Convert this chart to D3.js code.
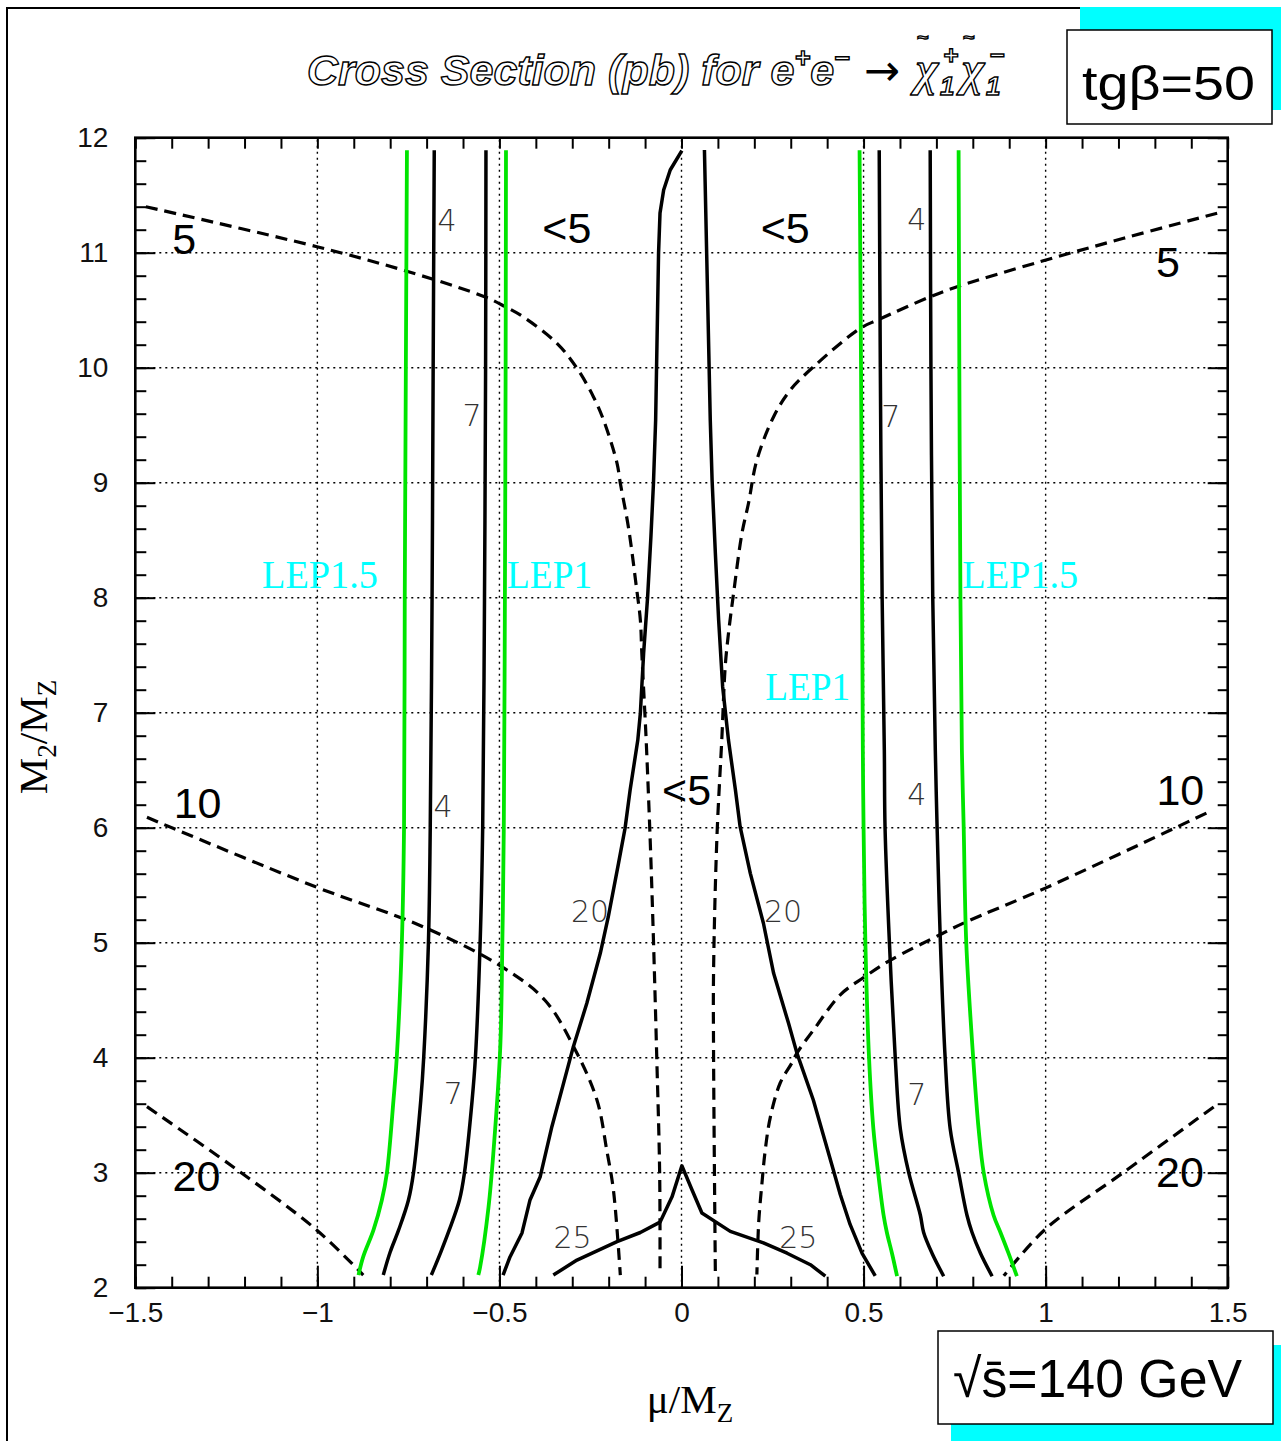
<!DOCTYPE html>
<html>
<head>
<meta charset="utf-8">
<script src="https://cdn.jsdelivr.net/npm/d3@7"></script>
<style>
  body { margin: 0; background: #fff; }
</style>
</head>
<body>
<svg id="chart" width="1281" height="1441"></svg>
<script>
// ---- data (mu/MZ, M2/MZ) ----
const lep15L = [[-0.754, 11.89], [-0.757, 10.0], [-0.760, 8.0], [-0.762, 6.0], [-0.768, 5.0], [-0.782, 4.0], [-0.791, 3.63], [-0.809, 3.0], [-0.823, 2.76], [-0.846, 2.5], [-0.874, 2.27], [-0.887, 2.11]];
const cont4L = [[-0.679, 11.89], [-0.682, 10], [-0.685, 8], [-0.69, 6], [-0.695, 5], [-0.708, 4], [-0.716, 3.63], [-0.736, 3.0], [-0.75, 2.76], [-0.777, 2.5], [-0.8, 2.31], [-0.819, 2.11]];
const cont7L = [[-0.537, 11.89], [-0.538, 10], [-0.541, 8], [-0.546, 6], [-0.553, 5], [-0.566, 4], [-0.575, 3.63], [-0.596, 3.0], [-0.61, 2.76], [-0.638, 2.5], [-0.661, 2.31], [-0.687, 2.11]];
const lep1L = [[-0.482, 11.89], [-0.483, 10], [-0.485, 8], [-0.488, 6], [-0.492, 5], [-0.498, 4.07], [-0.516, 3.2], [-0.53, 2.7], [-0.553, 2.18], [-0.558, 2.11]];

const lep1R = [[0.489, 11.89], [0.493, 10], [0.496, 8], [0.498, 6.675], [0.5, 6.0], [0.505, 5.0], [0.515, 4.0], [0.527, 3.38], [0.54, 3.0], [0.555, 2.63], [0.564, 2.48], [0.578, 2.3], [0.592, 2.1]];
const cont4R = [[0.543, 11.89], [0.546, 10], [0.551, 8], [0.557, 6.675], [0.559, 6.0], [0.571, 5.0], [0.587, 4.0], [0.601, 3.38], [0.624, 3.0], [0.656, 2.63], [0.665, 2.48], [0.688, 2.3], [0.72, 2.1]];
const cont7R = [[0.683, 11.89], [0.685, 10], [0.69, 8], [0.697, 6.675], [0.702, 6.0], [0.711, 5.0], [0.724, 4.0], [0.738, 3.38], [0.761, 3.0], [0.784, 2.63], [0.798, 2.48], [0.821, 2.3], [0.853, 2.1]];
const lep15R = [[0.761, 11.89], [0.763, 10], [0.766, 8], [0.77, 6.675], [0.775, 6.0], [0.782, 5.0], [0.801, 4.0], [0.816, 3.38], [0.83, 3.0], [0.857, 2.63], [0.876, 2.48], [0.898, 2.3], [0.921, 2.1]];

const centL = [[0.001, 11.887], [-0.031, 11.719], [-0.049, 11.545], [-0.059, 11.345], [-0.063, 10.997], [-0.071, 9.545], [-0.077, 8.995], [-0.084, 8.53], [-0.093, 8.009], [-0.104, 7.517], [-0.113, 6.995], [-0.12, 6.762], [-0.141, 6.33], [-0.155, 5.995], [-0.173, 5.69], [-0.201, 5.226], [-0.223, 4.908], [-0.26, 4.473], [-0.297, 4.096], [-0.324, 3.777], [-0.356, 3.4], [-0.388, 2.965], [-0.416, 2.763], [-0.438, 2.476], [-0.471, 2.267], [-0.49, 2.11]];
const centR = [[0.063, 11.893], [0.079, 9.545], [0.084, 9.023], [0.093, 8.386], [0.102, 7.806], [0.113, 7.226], [0.125, 6.878], [0.129, 6.762], [0.148, 6.33], [0.161, 6.009], [0.189, 5.603], [0.225, 5.169], [0.253, 4.734], [0.294, 4.299], [0.317, 4.04], [0.362, 3.632], [0.417, 3.023], [0.436, 2.81], [0.463, 2.55], [0.496, 2.298], [0.532, 2.103]];
const cont25 = [[-0.352, 2.11], [-0.287, 2.24], [-0.177, 2.4], [-0.113, 2.48], [-0.059, 2.57], [-0.026, 2.79], [0.001, 3.06], [0.029, 2.85], [0.056, 2.65], [0.134, 2.49], [0.225, 2.39], [0.29, 2.3], [0.354, 2.2], [0.395, 2.1]];

const dash5L = [[-1.471, 11.4], [-1.001, 11.052], [-0.759, 10.843], [-0.539, 10.615], [-0.484, 10.53], [-0.435, 10.443], [-0.342, 10.212], [-0.287, 9.995], [-0.242, 9.748], [-0.214, 9.545], [-0.177, 9.169], [-0.168, 8.995], [-0.146, 8.617], [-0.124, 8.096], [-0.113, 7.806], [-0.109, 7.517], [-0.102, 7.082], [-0.097, 6.76], [-0.086, 5.893], [-0.077, 5.023], [-0.068, 4.009], [-0.06, 3.0], [-0.059, 2.11]];
const dash5R = [[1.471, 11.343], [1.214, 11.125], [0.985, 10.922], [0.757, 10.704], [0.683, 10.617], [0.543, 10.421], [0.491, 10.343], [0.363, 10.009], [0.299, 9.806], [0.253, 9.574], [0.207, 9.197], [0.184, 8.821], [0.166, 8.56], [0.143, 8.038], [0.129, 7.69], [0.12, 7.4], [0.111, 6.791], [0.097, 5.893], [0.088, 4.734], [0.088, 4.067], [0.093, 2.11]];
const dash10L = [[-1.468, 6.09], [-1.0, 5.48], [-0.718, 5.15], [-0.498, 4.8], [-0.375, 4.5], [-0.292, 4.07], [-0.232, 3.63], [-0.205, 3.19], [-0.187, 2.85], [-0.168, 2.11]];
const dash10R = [[1.4415, 6.127], [1.001, 5.477], [0.779, 5.177], [0.711, 5.071], [0.573, 4.847], [0.5, 4.697], [0.436, 4.547], [0.367, 4.26], [0.317, 4.04], [0.303, 3.954], [0.271, 3.78], [0.244, 3.484], [0.23, 3.197], [0.221, 2.91], [0.212, 2.567], [0.207, 2.115]];
const dash20L = [[-1.468, 3.574], [-1.232, 3.052], [-1.002, 2.502], [-0.874, 2.11]];
const dash20R = [[1.4615, 3.572], [1.214, 3.003], [0.999, 2.508], [0.885, 2.103]];

// labels anchored in data units
const bigLabels = [["5", -1.366, 10.99], ["5", 1.336, 10.79], ["<5", -0.315, 11.084], ["<5", 0.285, 11.084], ["<5", 0.014, 6.198],
  ["10", -1.329, 6.087], ["10", 1.37, 6.198], ["20", -1.332, 2.84], ["20", 1.369, 2.875]];
const smallLabels = [["4", -0.644, 11.189], ["4", 0.646, 11.197], ["7", -0.575, 9.493], ["7", 0.575, 9.484],
  ["4", -0.655, 6.093], ["4", 0.646, 6.197], ["7", -0.627, 3.597], ["7", 0.646, 3.588],
  ["20", -0.251, 5.18], ["20", 0.279, 5.18], ["25", -0.299, 2.345], ["25", 0.321, 2.345]];
const lepLabels = [["LEP1.5", -1.152, 8.085], ["LEP1", -0.479, 8.085], ["LEP1.5", 0.771, 8.085], ["LEP1", 0.23, 7.11]];

const xMajor = [-1.5, -1, -0.5, 0, 0.5, 1, 1.5];
const yMajor = [2, 3, 4, 5, 6, 7, 8, 9, 10, 11, 12];

// ---- drawing ----
const svg = d3.select("#chart");

const x = d3.scaleLinear().domain([-1.5, 1.5]).range([135.3, 1227.7]);
const y = d3.scaleLinear().domain([2, 12]).range([1287.7, 137.7]);

// outer pad frame
svg.append("rect").attr("x", 7).attr("y", 8).attr("width", 1300).attr("height", 1460)
  .attr("fill", "none").attr("stroke", "#000").attr("stroke-width", 2);

// grid
const grid = svg.append("g").attr("stroke", "#000").attr("stroke-width", 1.4).attr("stroke-dasharray", "2,4");
grid.selectAll("line.gx").data(xMajor.slice(1, -1)).join("line")
  .attr("x1", (d) => x(d)).attr("x2", (d) => x(d)).attr("y1", y(2)).attr("y2", y(12));
grid.selectAll("line.gy").data(yMajor.slice(1, -1)).join("line")
  .attr("y1", (d) => y(d)).attr("y2", (d) => y(d)).attr("x1", x(-1.5)).attr("x2", x(1.5));

const line = d3.line().x((d) => x(d[0])).y((d) => y(d[1]));
const smooth = d3.line().x((d) => x(d[0])).y((d) => y(d[1])).curve(d3.curveCatmullRom.alpha(0.5));

const curves = svg.append("g").attr("fill", "none").attr("stroke-linejoin", "round");

// dashed contours
curves.selectAll("path.dash")
  .data([dash5L, dash5R, dash10L, dash10R, dash20L, dash20R]).join("path")
  .attr("d", smooth).attr("stroke", "#000").attr("stroke-width", 3.2).attr("stroke-dasharray", "12,7");

// solid black contours
curves.selectAll("path.blk")
  .data([cont4L, cont7L, cont4R, cont7R]).join("path")
  .attr("d", smooth).attr("stroke", "#000").attr("stroke-width", 3.5);
curves.selectAll("path.cen")
  .data([centL, centR, cont25]).join("path")
  .attr("d", line).attr("stroke", "#000").attr("stroke-width", 3.5);

// LEP limits (green)
curves.selectAll("path.lep")
  .data([lep15L, lep1L, lep1R, lep15R]).join("path")
  .attr("d", smooth).attr("stroke", "#00e400").attr("stroke-width", 3.8);

// plot frame
svg.append("rect").attr("x", x(-1.5)).attr("y", y(12))
  .attr("width", x(1.5) - x(-1.5)).attr("height", y(2) - y(12))
  .attr("fill", "none").attr("stroke", "#000").attr("stroke-width", 2.6);

// ticks
const xMinor = d3.range(-15, 16).map((i) => i / 10);
const yMinor = d3.range(10, 61).map((i) => i / 5);
function ticks(axis, values, size, tr) {
  const g = svg.append("g").attr("transform", tr)
    .call(axis.tickValues(values).tickSize(size).tickFormat(""));
  g.select(".domain").remove();
  g.selectAll("line").attr("stroke-width", 2);
}
ticks(d3.axisTop(x), xMinor, 11, `translate(0,${y(2)})`);
ticks(d3.axisTop(x), xMajor, 22, `translate(0,${y(2)})`);
ticks(d3.axisBottom(x), xMinor, 11, `translate(0,${y(12)})`);
ticks(d3.axisRight(y), yMinor, 11, `translate(${x(-1.5)},0)`);
ticks(d3.axisRight(y), yMajor, 20, `translate(${x(-1.5)},0)`);
ticks(d3.axisLeft(y), yMinor, 10, `translate(${x(1.5)},0)`);
ticks(d3.axisLeft(y), yMajor, 20, `translate(${x(1.5)},0)`);

const fmt = d3.format("~g");
const xl = svg.append("g").attr("transform", `translate(0,${y(2)})`)
  .call(d3.axisBottom(x).tickValues(xMajor).tickSize(0).tickPadding(14).tickFormat(fmt));
xl.select(".domain").remove();
xl.selectAll("text").attr("font-family", "Liberation Sans, Arial, sans-serif").attr("font-size", 28).attr("fill", "#111");

const yl = svg.append("g").attr("transform", `translate(${x(-1.5)},0)`)
  .call(d3.axisLeft(y).tickValues(yMajor).tickSize(0).tickPadding(27).tickFormat(fmt));
yl.select(".domain").remove();
yl.selectAll("text").attr("font-family", "Liberation Sans, Arial, sans-serif").attr("font-size", 28).attr("fill", "#111");

// contour labels
svg.append("g").attr("font-family", "Liberation Sans, Arial, sans-serif").attr("font-size", 43)
  .attr("text-anchor", "middle").attr("fill", "#000")
  .selectAll("text").data(bigLabels).join("text")
  .attr("x", (d) => x(d[1])).attr("y", (d) => y(d[2])).text((d) => d[0]);

svg.append("g").attr("font-family", "DejaVu Sans, sans-serif").attr("font-weight", 200).attr("font-size", 30)
  .attr("text-anchor", "middle").attr("fill", "#333")
  .selectAll("text").data(smallLabels).join("text")
  .attr("x", (d) => x(d[1])).attr("y", (d) => y(d[2])).text((d) => d[0]);

svg.append("g").attr("font-family", "Liberation Serif, Times New Roman, serif").attr("font-size", 41)
  .attr("fill", "#00ffff")
  .selectAll("text").data(lepLabels).join("text")
  .attr("x", (d) => x(d[1])).attr("y", (d) => y(d[2]))
  .attr("textLength", (d) => (d[0] === "LEP1" ? 85 : 116)).attr("lengthAdjust", "spacingAndGlyphs")
  .text((d) => d[0]);

// axis titles
const yt = svg.append("text").attr("transform", "translate(47,737) rotate(-90)")
  .attr("text-anchor", "middle").attr("font-family", "Liberation Serif, Times New Roman, serif").attr("font-size", 41);
yt.append("tspan").text("M");
yt.append("tspan").attr("font-size", 27).attr("dy", 9).text("2");
yt.append("tspan").attr("dy", -9).text("/M");
yt.append("tspan").attr("font-size", 27).attr("dy", 9).text("Z");

const xt = svg.append("text").attr("x", 690).attr("y", 1413)
  .attr("text-anchor", "middle").attr("font-family", "Liberation Serif, Times New Roman, serif").attr("font-size", 41);
xt.append("tspan").text("μ/M");
xt.append("tspan").attr("font-size", 27).attr("dy", 9).text("Z");

// title (outlined italic)
const titleG = svg.append("g").attr("font-family", "Liberation Sans, Arial, sans-serif")
  .attr("font-style", "italic").attr("font-weight", "bold")
  .attr("fill", "#fff").attr("stroke", "#000").attr("stroke-width", 1.4);
const tt = titleG.append("text").attr("x", 307).attr("y", 85).attr("font-size", 43);
tt.append("tspan").text("Cross Section (pb) for e");
tt.append("tspan").attr("font-size", 27).attr("dy", -18).text("+");
tt.append("tspan").attr("dy", 18).text("e");
tt.append("tspan").attr("font-size", 27).attr("dy", -18).text("−");
tt.append("tspan").attr("dy", 18).attr("dx", 14).attr("font-family", "DejaVu Sans, sans-serif")
  .attr("font-style", "normal").attr("font-weight", "normal").attr("fill", "#000").attr("stroke", "none").text("→");
const x0 = 307 + tt.node().getComputedTextLength();

// chargino pair: chi with tilde, subscript 1 and stacked charge
function chargino(cx, charge) {
  titleG.append("text").attr("x", cx).attr("y", 85)
    .attr("font-family", "Liberation Serif, serif").attr("font-size", 48).text("χ");
  titleG.append("text").attr("x", cx + 1).attr("y", 44).attr("font-size", 20).attr("font-style", "normal").text("~");
  titleG.append("text").attr("x", cx + 24).attr("y", 95).attr("font-size", 26).text("1");
  titleG.append("text").attr("x", cx + 27).attr("y", 64).attr("font-size", 26).text(charge);
}
chargino(x0 + 30, "+");
chargino(x0 + 76, "−");

// tg(beta) box
svg.append("rect").attr("x", 1080).attr("y", 7).attr("width", 210).attr("height", 103).attr("fill", "#00ffff");
svg.append("rect").attr("x", 1067).attr("y", 30).attr("width", 205).attr("height", 94)
  .attr("fill", "#fff").attr("stroke", "#000").attr("stroke-width", 1.5);
svg.append("text").attr("x", 1082).attr("y", 100).attr("font-family", "Liberation Sans, Arial, sans-serif")
  .attr("font-size", 48).attr("textLength", 173).attr("lengthAdjust", "spacingAndGlyphs").text("tgβ=50");

// sqrt(s) box
svg.append("rect").attr("x", 951).attr("y", 1345).attr("width", 340).attr("height", 100).attr("fill", "#00ffff");
svg.append("rect").attr("x", 938).attr("y", 1331).attr("width", 335).attr("height", 93)
  .attr("fill", "#fff").attr("stroke", "#000").attr("stroke-width", 1.5);
svg.append("text").attr("x", 953).attr("y", 1397).attr("font-family", "Liberation Sans, Arial, sans-serif")
  .attr("font-size", 54).attr("textLength", 289).attr("lengthAdjust", "spacingAndGlyphs").text("√s\u0304=140 GeV");
</script>
</body>
</html>
